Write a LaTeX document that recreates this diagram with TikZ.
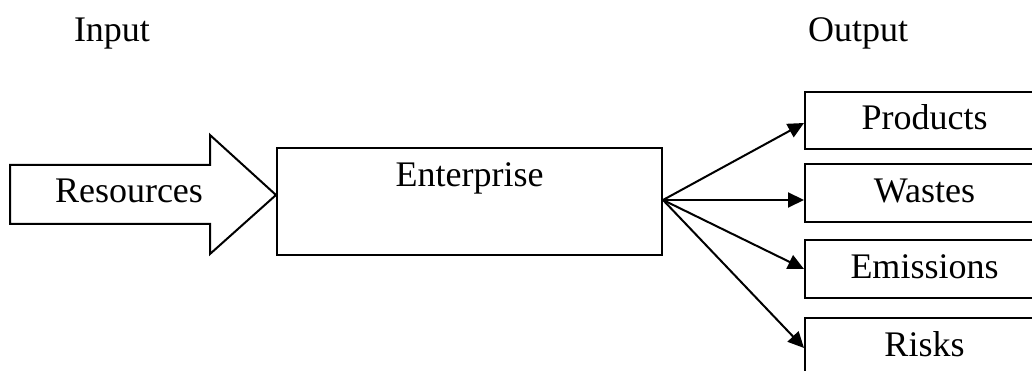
\documentclass[tikz,border=0pt]{standalone}
\usepackage{fontspec}
\setmainfont{Liberation Serif}
\usetikzlibrary{arrows.meta}
\begin{document}
\begin{tikzpicture}[x=1pt,y=1pt,
  line width=2pt,
  every node/.style={font=\fontsize{36}{43}\selectfont},
  outbox/.style={draw, anchor=north west, inner sep=0pt, minimum width=239pt,
                 text height=39pt, text depth=19pt, align=center},
  flow/.style={-{Triangle[length=16pt,width=15pt]}}]
  \useasboundingbox (0,0) rectangle (1032,371);

  % headings
  \node[anchor=base west, inner sep=0pt] (inlbl) at (73,329) {Input};
  \node[anchor=base west, inner sep=0pt] (outlbl) at (807,329) {Output};

  % block arrow carrying the resources
  \draw (10,206) -- (210,206) -- (210,236) -- (276,176) -- (210,117)
        -- (210,147) -- (10,147) -- cycle;
  \node[anchor=base, inner sep=0pt] (res) at (129,168) {Resources};

  % the enterprise
  \node[draw, anchor=north west, inner sep=0pt, minimum width=385pt,
        text height=39pt, text depth=68pt] (ent) at (276,224) {Enterprise};

  % outputs
  \node[outbox, text height=38pt] (prod) at (804,280) {Products};
  \node[outbox] (wst) at (804,208) {Wastes};
  \node[outbox] (emi) at (804,132) {Emissions};
  \node[outbox] (rsk) at (804,54) {Risks};

  \coordinate (fan) at ([yshift=1.5pt]ent.east);
  \draw[flow] (fan) -- ([yshift=-2.5pt]prod.west);
  \draw[flow] (fan) -- (wst.west |- fan);
  \draw[flow] (fan) -- (emi.west);
  \draw[flow] (fan) -- ([yshift=-1pt]rsk.west);
\end{tikzpicture}
\end{document}
